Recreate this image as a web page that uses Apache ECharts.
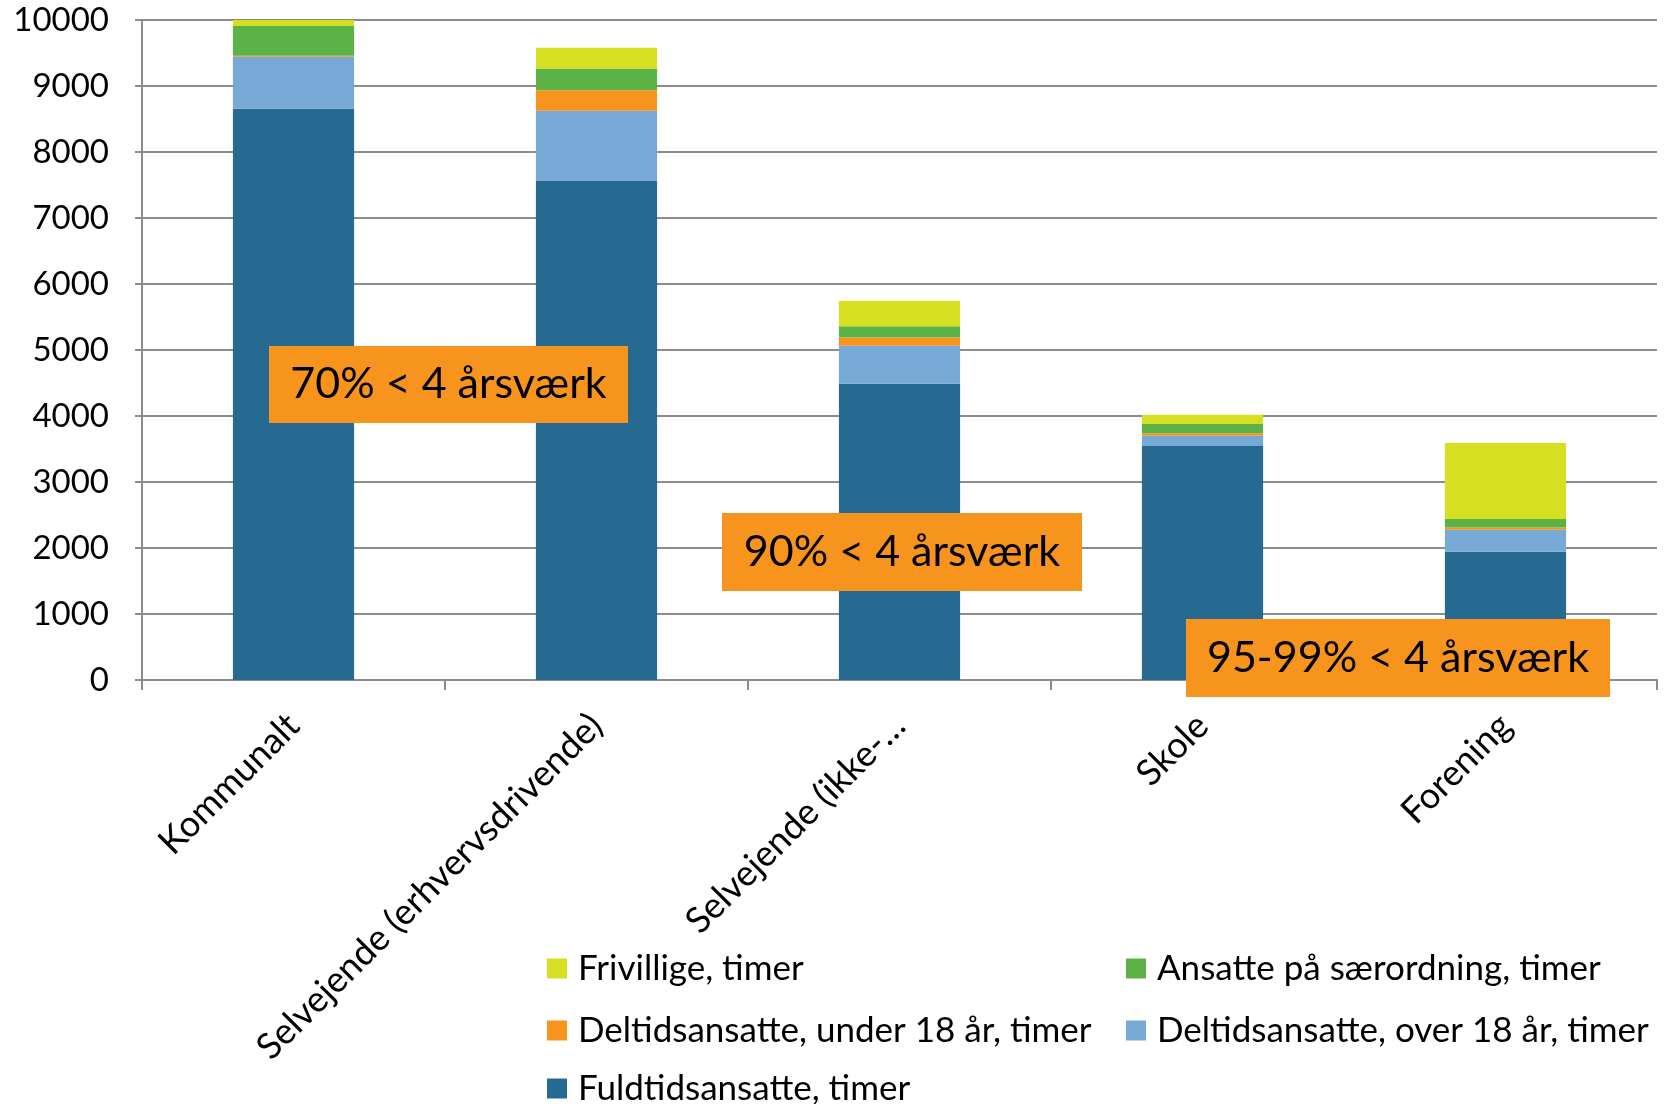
<!DOCTYPE html>
<html>
<head>
<meta charset="utf-8">
<script src="https://cdn.jsdelivr.net/npm/echarts@6/dist/echarts.min.js"></script>
<style>
  html, body { margin: 0; padding: 0; background: #fff; }
  #chart { width: 1666px; height: 1104px; }
</style>
</head>
<body>
<div id="chart"></div>
<script>
// kategorier
const categories = ['Kommunalt', 'Selvejende (erhvervsdrivende)', 'Selvejende (ikke-…', 'Skole', 'Forening'];

// serier (timer), nedefra og op
const fuldtid = [8655, 7560, 4490, 3545, 1945];
const deltidOver18 = [790, 1065, 575, 155, 330];
const deltidUnder18 = [15, 310, 125, 40, 35];
const saerordning = [450, 330, 170, 140, 130];
const frivillige = [95, 315, 385, 140, 1150];

const yTicks = { min: 0, max: 10000, interval: 1000 };

// tekstbokse
const notes = ['70% < 4 årsværk', '90% < 4 årsværk', '95-99% < 4 årsværk'];

const FONT = 'Lato, "Open Sans", sans-serif';

const chart = echarts.init(document.getElementById('chart'));

function bar(name, data, color) {
  return {
    name: name,
    type: 'bar',
    stack: 'total',
    data: data,
    barWidth: '40%',
    itemStyle: { color: color },
    emphasis: { disabled: true },
  };
}

function noteBox(x, y, w, h, text) {
  return {
    type: 'group',
    left: x,
    top: y,
    z: 100,
    children: [
      { type: 'rect', z: 100, shape: { x: 0, y: 0, width: w, height: h }, style: { fill: '#F7941D' } },
      {
        type: 'text',
        z: 101,
        x: w / 2,
        y: h / 2,
        style: {
          text: text,
          fill: '#000',
          font: '43px ' + FONT,
          align: 'center',
          verticalAlign: 'middle',
        },
      },
    ],
  };
}

const legendText = { color: '#000', fontSize: 35, fontFamily: FONT, lineHeight: 33, padding: [0, 0, 0, 6] };

function legendBlock(left, top, names) {
  return {
    orient: 'vertical',
    left: left,
    top: top,
    padding: 0,
    itemWidth: 20,
    itemHeight: 20,
    itemGap: 27,
    icon: 'rect',
    selectedMode: false,
    textStyle: legendText,
    data: names,
  };
}

let option = {
  animation: false,
  grid: {
    left: 142,
    right: 9,
    top: 20,
    bottom: 424,
    containLabel: false,
  },
  xAxis: {
    type: 'category',
    data: categories,
    axisLine: { lineStyle: { color: '#8c8c8c', width: 2 } },
    axisTick: { show: true, length: 10, lineStyle: { color: '#8c8c8c', width: 2 } },
    axisLabel: {
      rotate: 45,
      margin: 40,
      color: '#000',
      fontSize: 36,
      fontFamily: FONT,
      interval: 0,
    },
  },
  yAxis: {
    type: 'value',
    min: yTicks.min,
    max: yTicks.max,
    interval: yTicks.interval,
    axisLine: { show: true, lineStyle: { color: '#8c8c8c', width: 2 } },
    axisTick: { show: true, length: 7, lineStyle: { color: '#8c8c8c', width: 2 } },
    splitLine: { show: true, lineStyle: { color: '#8c8c8c', width: 2 } },
    axisLabel: {
      color: '#000',
      fontSize: 33,
      fontFamily: FONT,
      margin: 33,
      formatter: (v) => String(v),
    },
  },
  legend: [
    legendBlock(547, 951, ['Frivillige, timer', 'Deltidsansatte, under 18 år, timer']),
    legendBlock(547, 1071, ['Fuldtidsansatte, timer']),
    legendBlock(1126, 951, ['Ansatte på særordning, timer', 'Deltidsansatte, over 18 år, timer']),
  ],
  series: [
    bar('Fuldtidsansatte, timer', fuldtid, '#266A92'),
    bar('Deltidsansatte, over 18 år, timer', deltidOver18, '#77A9D7'),
    bar('Deltidsansatte, under 18 år, timer', deltidUnder18, '#F7941E'),
    bar('Ansatte på særordning, timer', saerordning, '#5DB246'),
    bar('Frivillige, timer', frivillige, '#D7DF23'),
  ],
  graphic: [
    noteBox(269, 346, 359, 77, notes[0]),
    noteBox(722, 513, 360, 78, notes[1]),
    noteBox(1186, 619, 424, 78, notes[2]),
  ],
};

chart.setOption(option);
</script>
</body>
</html>
